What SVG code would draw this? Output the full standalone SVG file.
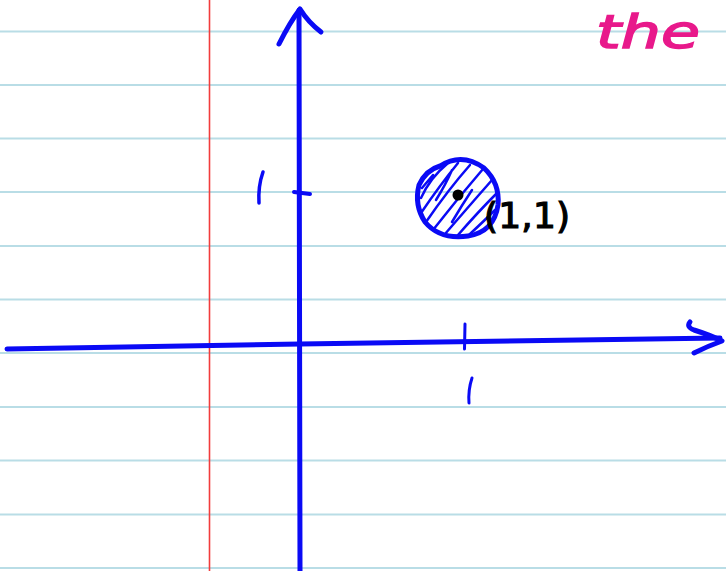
<svg xmlns="http://www.w3.org/2000/svg" width="726" height="571" viewBox="0 0 726 571">
<style>
.rule{stroke:#b9dde6;stroke-width:2;fill:none}
.margin{stroke:#f23c3c;stroke-width:1.6;fill:none}
.ink{stroke:#0a0af5;stroke-linecap:round;stroke-linejoin:round;fill:none}
</style>
<rect width="726" height="571" fill="#ffffff"/>
<g id="paper">
<path class="rule" d="M0 31.5H726M0 85H726M0 138.5H726M0 192H726M0 246H726M0 299.5H726M0 353H726M0 407H726M0 460.5H726M0 514.5H726M0 568H726"/>
<path class="margin" d="M209.5 0V571"/>
</g>
<g id="connectors">
<path class="ink" stroke-width="5" d="M300 571 L299.5 300 L299 10"/>
<path class="ink" stroke-width="5" d="M279 44 Q290 22 300 9 Q308 22 321 32"/>
<path class="ink" stroke-width="5" d="M7 349 L300 344 L720 338"/>
<path class="ink" stroke-width="5" d="M690 322 Q686 327 694 330 Q710 335 722 341 Q708 346 694 353"/>
</g>
<g id="ticks">
<path class="ink" stroke-width="4" d="M294 192 Q302 193 310 194"/>
<path class="ink" stroke-width="3" d="M465 324 L464.5 349"/>
<path class="ink" stroke-width="3.5" d="M263 172 Q258 186 259 203"/>
<path class="ink" stroke-width="3" d="M472 378 Q468 390 469 403"/>
</g>
<g id="point">
<path class="ink" stroke-width="5" d="M440 166 Q462 152 484 168 Q500 183 498 205 Q494 232 468 236 Q440 240 425 222 Q414 205 419 185 Q426 170 440 166 Z"/>
<path class="ink" stroke-width="2.5" d="M421 198 Q430 178 447 164 M421 213 Q440 185 458 163 M426 222 Q448 190 470 165 M433 230 Q458 198 483 169 M445 234 Q470 205 492 180 M458 235 Q478 212 497 193 M470 234 Q485 220 495 210 M422 188 L433 175 M436 200 Q446 184 452 170 M452 222 Q462 205 472 190"/>
<circle cx="458" cy="195" r="5.5" fill="#000"/>
<text x="484" y="228" font-family="'DejaVu Sans',sans-serif" font-size="36" fill="#000" stroke="#000" stroke-width="1.2" textLength="86" lengthAdjust="spacing">(1,1)</text>
</g>
<g id="note">
<text x="596" y="48" font-family="'DejaVu Sans',sans-serif" font-style="italic" font-size="46" fill="#e8198b" stroke="#e8198b" stroke-width="1.5" textLength="104" lengthAdjust="spacingAndGlyphs">the</text>
</g>
</svg>
